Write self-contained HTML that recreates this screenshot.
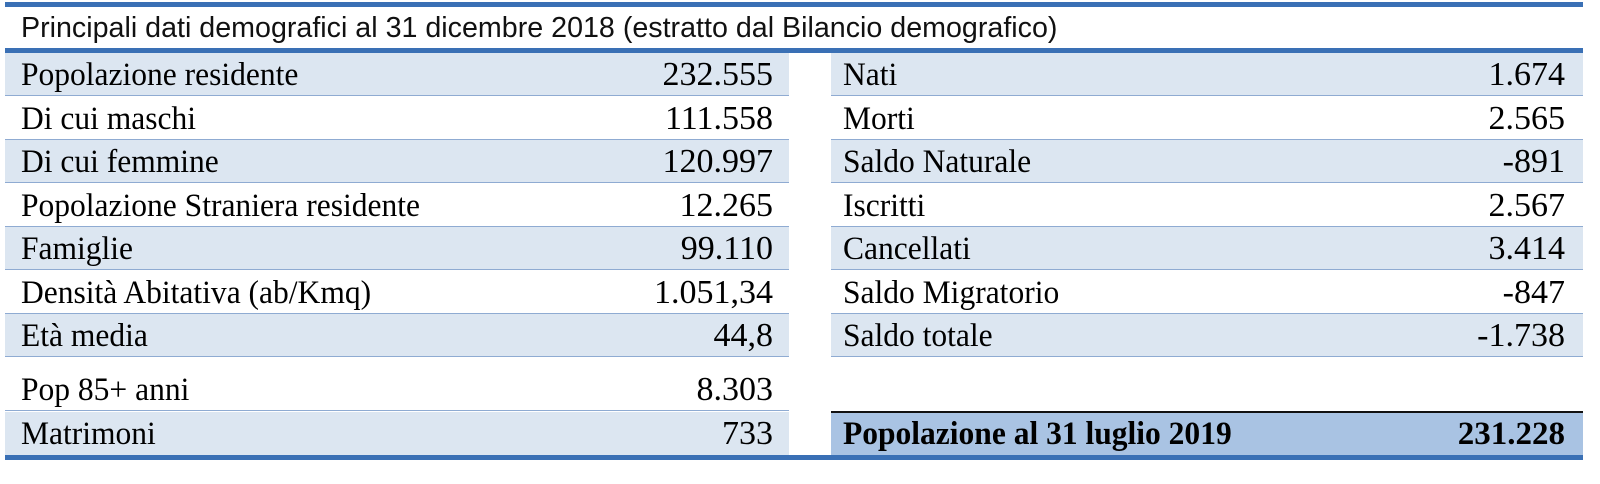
<!DOCTYPE html>
<html><head><meta charset="utf-8">
<style>
html,body{margin:0;padding:0;background:#fff;}
body{width:1600px;height:484px;position:relative;overflow:hidden;font-family:"Liberation Serif",serif;color:#000;}
.thick{position:absolute;left:5px;width:1578px;height:5px;background:#3a70b5;}
.title{position:absolute;left:21px;top:8px;height:41px;line-height:41px;font-family:"Liberation Sans",sans-serif;font-size:28.5px;color:#111;white-space:nowrap;transform:scaleX(1.005);transform-origin:left center;}
.row{position:absolute;height:42px;border-bottom:1.5px solid #8fabd2;font-size:33px;line-height:44px;white-space:nowrap;}
.L{left:5px;width:784px;}
.R{left:831px;width:752px;}
.b{background:#dce6f1;}
.w{background:#fff;}
.row .lab{position:absolute;left:16px;top:0;transform:scaleX(0.955);transform-origin:left center;}
.R .lab{left:12px;}
.row .val{position:absolute;right:16px;top:0;font-size:34px;}
.R .val{right:18px;}
.bold{font-weight:bold;background:#a9c3e3;border-bottom:none;}
.bold .val{font-size:33px;}
</style></head><body>
<div class="thick" style="top:2px"></div>
<div class="title">Principali dati demografici al 31 dicembre 2018 (estratto dal Bilancio demografico)</div>
<div class="thick" style="top:48px"></div>

<div class="row L b" style="top:53px"><span class="lab">Popolazione residente</span><span class="val">232.555</span></div>
<div class="row L w" style="top:96.5px"><span class="lab">Di cui maschi</span><span class="val">111.558</span></div>
<div class="row L b" style="top:140px"><span class="lab">Di cui femmine</span><span class="val">120.997</span></div>
<div class="row L w" style="top:183.5px"><span class="lab">Popolazione Straniera residente</span><span class="val">12.265</span></div>
<div class="row L b" style="top:227px"><span class="lab">Famiglie</span><span class="val">99.110</span></div>
<div class="row L w" style="top:270.5px"><span class="lab">Densità Abitativa (ab/Kmq)</span><span class="val">1.051,34</span></div>
<div class="row L b" style="top:314px"><span class="lab">Età media</span><span class="val">44,8</span></div>
<div class="row L w" style="top:368px"><span class="lab">Pop 85+ anni</span><span class="val">8.303</span></div>
<div class="row L b" style="top:412px;border-bottom:none;height:43px"><span class="lab">Matrimoni</span><span class="val">733</span></div>

<div class="row R b" style="top:53px"><span class="lab">Nati</span><span class="val">1.674</span></div>
<div class="row R w" style="top:96.5px"><span class="lab">Morti</span><span class="val">2.565</span></div>
<div class="row R b" style="top:140px"><span class="lab">Saldo Naturale</span><span class="val">-891</span></div>
<div class="row R w" style="top:183.5px"><span class="lab">Iscritti</span><span class="val">2.567</span></div>
<div class="row R b" style="top:227px"><span class="lab">Cancellati</span><span class="val">3.414</span></div>
<div class="row R w" style="top:270.5px"><span class="lab">Saldo Migratorio</span><span class="val">-847</span></div>
<div class="row R b" style="top:314px"><span class="lab">Saldo totale</span><span class="val">-1.738</span></div>

<div style="position:absolute;left:831px;top:411px;width:752px;height:2px;background:#111;"></div>
<div class="row R bold" style="top:413px;height:42px;line-height:43px"><span class="lab">Popolazione al 31 luglio 2019</span><span class="val">231.228</span></div>

<div class="thick" style="top:455px"></div>
</body></html>
